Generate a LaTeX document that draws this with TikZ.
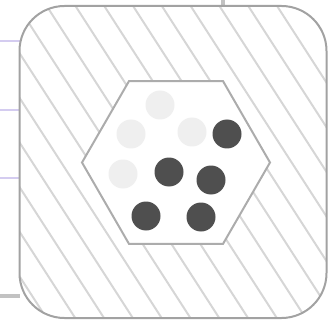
\documentclass[tikz,border=0pt]{standalone}
\usepackage{tikz}
\usetikzlibrary{shapes.geometric}

\definecolor{frameGray}{HTML}{A2A2A2}
\definecolor{hexGray}{HTML}{ACACAC}
\definecolor{hatchGray}{HTML}{D6D6D6}
\definecolor{dotLight}{HTML}{EFEFEF}
\definecolor{dotDark}{HTML}{4F4F4F}
\definecolor{wireLav}{HTML}{D4CCF0}
\definecolor{wireGray}{HTML}{C2C2C2}

\begin{document}
\begin{tikzpicture}[
  x=1pt,y=-1pt,
  panel/.style={draw=frameGray,line width=2pt,rounded corners=45pt},
  hatch/.style={draw=hatchGray,line width=2pt},
  cell/.style={regular polygon,regular polygon sides=6,minimum size=188pt,
               inner sep=0pt,draw=hexGray,line width=2pt,fill=white},
  ion/.style={circle,minimum size=29pt,inner sep=0pt},
  lite/.style={ion,fill=dotLight},
  dark/.style={ion,fill=dotDark},
  wire/.style={draw=wireLav,line width=2pt}
]
\useasboundingbox (0,0) rectangle (328,320);
% wires coming in from outside
\draw[wire] (0,41.5) -- (20,41.5);
\draw[wire] (0,110) -- (20,110);
\draw[wire] (0,178) -- (20,178);
\draw[draw=wireGray,line width=4.5pt] (0,296) -- (20,296);
\draw[draw=wireGray,line width=4.5pt] (223,0) -- (223,6);
% hatched panel
\begin{scope}
  \clip[rounded corners=45pt] (19.5,6) rectangle (326.5,318);
  \foreach \k in {-8,...,11}
    \draw[hatch] ({14+28.8*\k},0) -- ({14+28.8*\k+206.5},320);
\end{scope}
\draw[panel] (19.5,6) rectangle (326.5,318);
% cell and its ions
\node[cell] (hex) at (176,162.5) {};
\node[lite] (l1) at (160,105) {};
\node[lite] (l2) at (131,134) {};
\node[lite] (l3) at (192,132) {};
\node[lite] (l4) at (123,174) {};
\node[dark] (d1) at (227,134) {};
\node[dark] (d2) at (169,172) {};
\node[dark] (d3) at (211,180) {};
\node[dark] (d4) at (146,216) {};
\node[dark] (d5) at (201,217) {};
\end{tikzpicture}
\end{document}
